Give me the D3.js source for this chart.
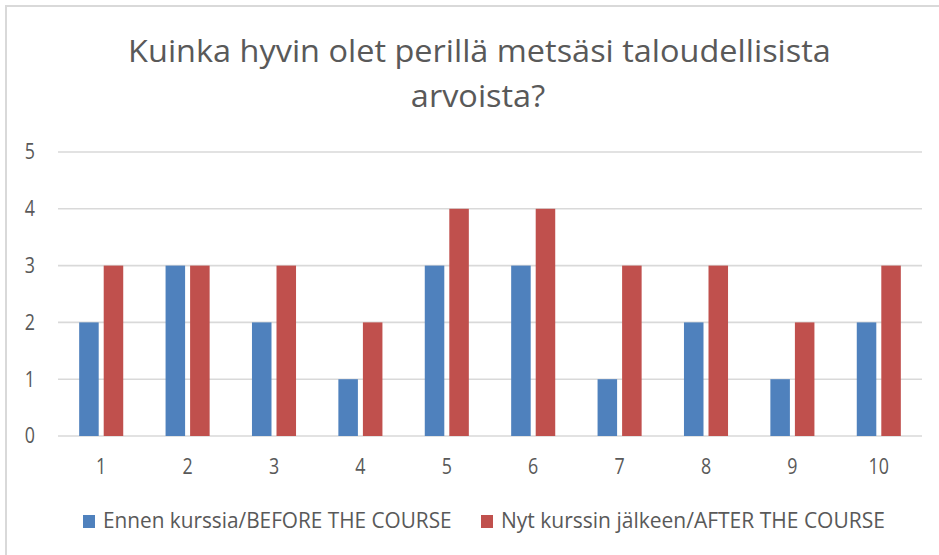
<!DOCTYPE html>
<html>
<head>
<meta charset="utf-8">
<script src="https://cdn.jsdelivr.net/npm/d3@7"></script>
<style>
  html, body { margin: 0; padding: 0; background: #fff; }
  svg { display: block; }
  text { font-family: "Open Sans", sans-serif; fill: #595959; }
</style>
</head>
<body>
<svg id="chart" width="939" height="555"></svg>
<script>
const titleLines = ["Kuinka hyvin olet perillä metsäsi taloudellisista", "arvoista?"];
const categories = ["1", "2", "3", "4", "5", "6", "7", "8", "9", "10"];
const seriesNames = ["Ennen kurssia/BEFORE THE COURSE", "Nyt kurssin jälkeen/AFTER THE COURSE"];
const beforeValues = [2, 3, 2, 1, 3, 3, 1, 2, 1, 2];
const afterValues = [3, 3, 3, 2, 4, 4, 3, 3, 2, 3];
const yTicks = [0, 1, 2, 3, 4, 5];
const colors = ["#4F81BD", "#C0504D"];

const svg = d3.select("#chart");
const W = 939, H = 555;

// outer border
svg.append("rect").attr("x", 6).attr("y", 6).attr("width", W + 10).attr("height", H + 10)
  .attr("fill", "none").attr("stroke", "#D9D9D9").attr("stroke-width", 2);

// text compressed horizontally to mimic a narrow face
function narrowText(g, x, y, fs, str, targetWidth, anchor) {
  const t = g.append("text").attr("font-size", fs).attr("text-anchor", anchor).text(str);
  const w = t.node().getComputedTextLength();
  const sx = w > 0 ? targetWidth / w : 1;
  t.attr("transform", `translate(${x},${y}) scale(${sx.toFixed(4)},1)`);
  return sx;
}

// title
const sxT = narrowText(svg, 479.5, 62, 31, titleLines[0], 703, "middle");
svg.append("text").attr("font-size", 31).attr("text-anchor", "middle")
  .attr("transform", `translate(478,107) scale(${sxT.toFixed(4)},1)`).text(titleLines[1]);

const x = d3.scaleBand().domain(categories).range([58, 922]).paddingInner(0.49).paddingOuter(0.245);
const xSub = d3.scaleBand().domain([0, 1]).range([0, x.bandwidth()]).paddingInner(0.204);
const y = d3.scaleLinear().domain([0, 5]).range([436, 152]);

// gridlines
svg.append("g").selectAll("line").data(yTicks).join("line")
  .attr("x1", 58).attr("x2", 922)
  .attr("y1", d => y(d)).attr("y2", d => y(d))
  .attr("stroke", "#D9D9D9").attr("stroke-width", 1.6);

const labelScale = 0.85;
// y labels
svg.append("g").selectAll("text").data(yTicks).join("text")
  .attr("transform", d => `translate(35,${y(d)}) scale(${labelScale},1)`)
  .attr("dy", "0.35em").attr("text-anchor", "end")
  .attr("font-size", 21).text(d => d);

// bars
const series = [beforeValues, afterValues];
const groups = svg.append("g").selectAll("g").data(series).join("g")
  .attr("fill", (d, i) => colors[i]);
groups.each(function (vals, si) {
  d3.select(this).selectAll("rect").data(vals).join("rect")
    .attr("x", (d, i) => x(categories[i]) + xSub(si))
    .attr("width", xSub.bandwidth())
    .attr("y", d => y(d))
    .attr("height", d => y(0) - y(d));
});

// x labels
svg.append("g").selectAll("text").data(categories).join("text")
  .attr("transform", d => `translate(${x(d) + x.bandwidth() / 2},467) scale(${labelScale},1)`)
  .attr("dy", "0.35em").attr("text-anchor", "middle").attr("font-size", 21).text(d => d);

// legend
const legendPos = [{ sx: 83, tx: 103, tw: 349 }, { sx: 481, tx: 501, tw: 384 }];
seriesNames.forEach((name, i) => {
  svg.append("rect").attr("x", legendPos[i].sx).attr("y", 515).attr("width", 12).attr("height", 13)
    .attr("fill", colors[i]);
  narrowText(svg, legendPos[i].tx, 528, 21, name, legendPos[i].tw, "start");
});
</script>
</body>
</html>
